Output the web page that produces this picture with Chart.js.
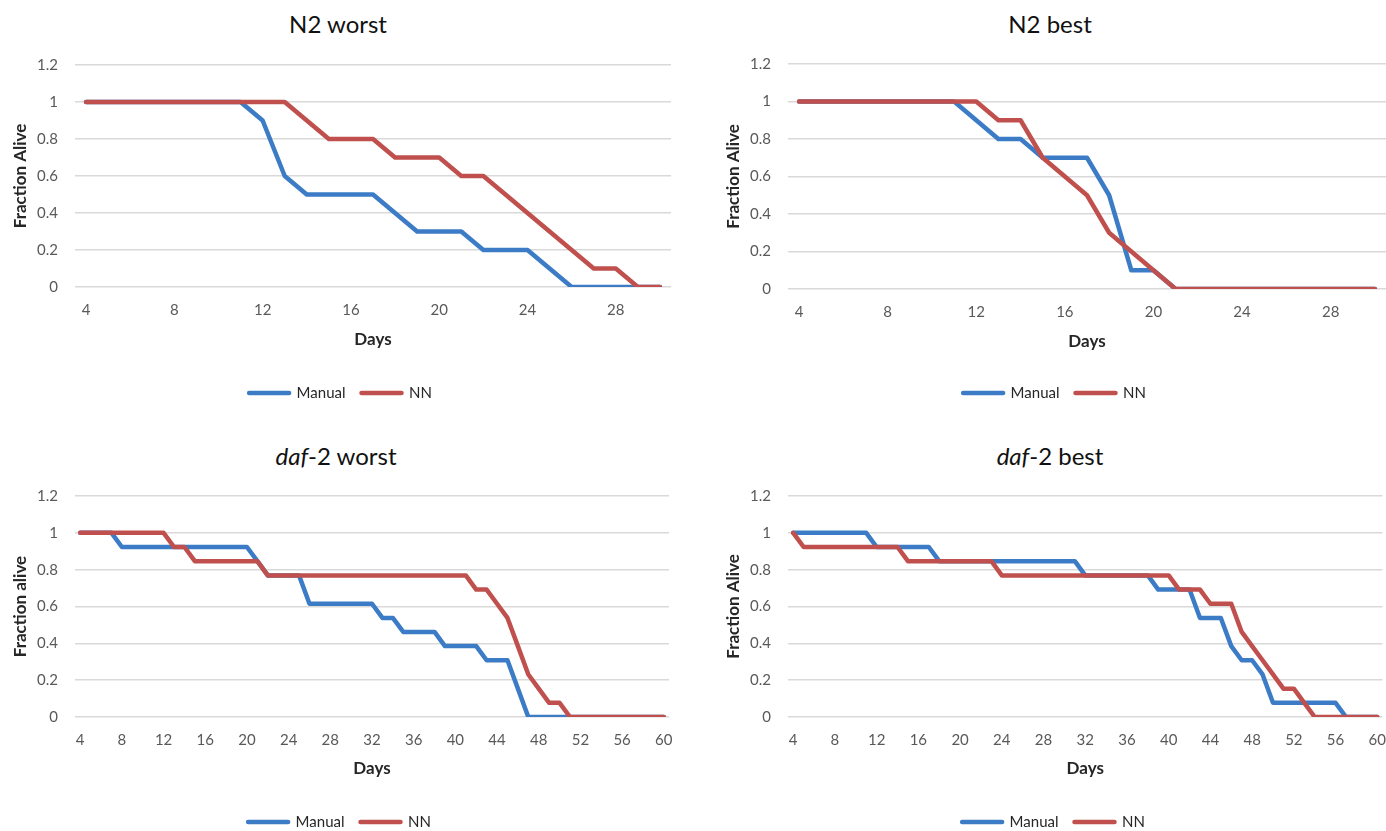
<!DOCTYPE html>
<html>
<head>
<meta charset="utf-8">
<script src="https://cdn.jsdelivr.net/npm/chart.js@4"></script>
<style>
  body { margin: 0; background: #fff; width: 1386px; height: 831px; overflow: hidden; position: relative; font-family: Lato, sans-serif; }
  .panel { position: absolute; }
  .title { position: absolute; width: 300px; text-align: center; font-size: 24px; line-height: 30px; color: #111; }
</style>
</head>
<body>
<div class="title" style="left:188px; top:9px;">N2 worst</div>
<div class="title" style="left:900px; top:9px;">N2 best</div>
<div class="title" style="left:186px; top:441px;"><i>daf</i>-2 worst</div>
<div class="title" style="left:900px; top:441px;"><i>daf</i>-2 best</div>

<div class="panel" style="left:0; top:0; width:693px; height:415px;"><canvas id="n2Worst"></canvas></div>
<div class="panel" style="left:693px; top:0; width:693px; height:415px;"><canvas id="n2Best"></canvas></div>
<div class="panel" style="left:0; top:415px; width:693px; height:430px;"><canvas id="dafWorst"></canvas></div>
<div class="panel" style="left:693px; top:415px; width:693px; height:430px;"><canvas id="dafBest"></canvas></div>

<script>
const n2Days = [4, 5, 6, 7, 8, 9, 10, 11, 12, 13, 14, 15, 16, 17, 18, 19, 20, 21, 22, 23, 24, 25, 26, 27, 28, 29, 30];

const n2WorstManual = [1, 1, 1, 1, 1, 1, 1, 1, 0.9, 0.6, 0.5, 0.5, 0.5, 0.5, 0.4, 0.3, 0.3, 0.3, 0.2, 0.2, 0.2, 0.1, 0, 0, 0, 0, 0];
const n2WorstNN = [1, 1, 1, 1, 1, 1, 1, 1, 1, 1, 0.9, 0.8, 0.8, 0.8, 0.7, 0.7, 0.7, 0.6, 0.6, 0.5, 0.4, 0.3, 0.2, 0.1, 0.1, 0, 0];

const n2BestManual = [1, 1, 1, 1, 1, 1, 1, 1, 0.9, 0.8, 0.8, 0.7, 0.7, 0.7, 0.5, 0.1, 0.1, 0, 0, 0, 0, 0, 0, 0, 0, 0, 0];
const n2BestNN = [1, 1, 1, 1, 1, 1, 1, 1, 1, 0.9, 0.9, 0.7, 0.6, 0.5, 0.3, 0.2, 0.1, 0, 0, 0, 0, 0, 0, 0, 0, 0, 0];

const dafDays = [4, 5, 6, 7, 8, 9, 10, 11, 12, 13, 14, 15, 16, 17, 18, 19, 20, 21, 22, 23, 24, 25, 26, 27, 28, 29, 30, 31, 32,
  33, 34, 35, 36, 37, 38, 39, 40, 41, 42, 43, 44, 45, 46, 47, 48, 49, 50, 51, 52, 53, 54, 55, 56, 57, 58, 59, 60];

const dafWorstManual = [1, 1, 1, 1,
  0.923, 0.923, 0.923, 0.923, 0.923, 0.923, 0.923, 0.923, 0.923, 0.923, 0.923, 0.923, 0.923,
  0.846, 0.769, 0.769, 0.769, 0.769,
  0.615, 0.615, 0.615, 0.615, 0.615, 0.615, 0.615,
  0.538, 0.538, 0.462, 0.462, 0.462, 0.462,
  0.385, 0.385, 0.385, 0.385, 0.308, 0.308, 0.308, 0.154,
  0, 0, 0, 0, 0, 0, 0, 0, 0, 0, 0, 0, 0, 0];
const dafWorstNN = [1, 1, 1, 1, 1, 1, 1, 1, 1,
  0.923, 0.923, 0.846, 0.846, 0.846, 0.846, 0.846, 0.846, 0.846,
  0.769, 0.769, 0.769, 0.769, 0.769, 0.769, 0.769, 0.769, 0.769, 0.769,
  0.769, 0.769, 0.769, 0.769, 0.769, 0.769, 0.769, 0.769, 0.769, 0.769,
  0.692, 0.692, 0.615, 0.538, 0.385, 0.231, 0.154, 0.077, 0.077,
  0, 0, 0, 0, 0, 0, 0, 0, 0, 0];

const dafBestManual = [1, 1, 1, 1, 1, 1, 1, 1,
  0.923, 0.923, 0.923, 0.923, 0.923, 0.923,
  0.846, 0.846, 0.846, 0.846, 0.846, 0.846, 0.846, 0.846, 0.846, 0.846, 0.846, 0.846, 0.846, 0.846,
  0.769, 0.769, 0.769, 0.769, 0.769, 0.769, 0.769,
  0.692, 0.692, 0.692, 0.692, 0.538, 0.538, 0.538, 0.385, 0.308, 0.308, 0.231,
  0.077, 0.077, 0.077, 0.077, 0.077, 0.077, 0.077,
  0, 0, 0, 0];
const dafBestNN = [1,
  0.923, 0.923, 0.923, 0.923, 0.923, 0.923, 0.923, 0.923, 0.923, 0.923,
  0.846, 0.846, 0.846, 0.846, 0.846, 0.846, 0.846, 0.846, 0.846,
  0.769, 0.769, 0.769, 0.769, 0.769, 0.769, 0.769, 0.769, 0.769, 0.769, 0.769, 0.769, 0.769, 0.769, 0.769, 0.769, 0.769,
  0.692, 0.692, 0.692, 0.615, 0.615, 0.615, 0.462, 0.385, 0.308, 0.231, 0.154, 0.154, 0.077,
  0, 0, 0, 0, 0, 0, 0];

const seriesNames = ['Manual', 'NN'];
const seriesColors = ['#3c7cc6', '#c0504d'];
const yTicks = { min: 0, max: 1.2, step: 0.2 };

Chart.defaults.font.family = 'Lato, sans-serif';

// box = where the plot area, "Days" and the legend should land inside each canvas
function makeChart(id, days, manual, nn, yTitle, box) {
    const ctx = document.getElementById(id).getContext('2d');
    const legendPad = 16;
    const legendTop = box.legendY - legendPad - 7.5;
    const xTitleLine = 17 * 1.2;

    return new Chart(ctx, {
        type: 'line',
        data: {
            labels: days,
            datasets: [
                // NN is drawn over Manual, like the original
                { label: seriesNames[0], data: manual, borderColor: seriesColors[0], backgroundColor: seriesColors[0], order: 1 },
                { label: seriesNames[1], data: nn, borderColor: seriesColors[1], backgroundColor: seriesColors[1], order: 0 },
            ],
        },
        options: {
            responsive: true,
            maintainAspectRatio: false,
            animation: false,
            elements: {
                point: { radius: 0, hoverRadius: 0 },
                line: { borderWidth: 4.5, tension: 0, borderJoinStyle: 'round', borderCapStyle: 'round' },
            },
            layout: {
                padding: { left: box.padLeft, right: box.padRight, top: box.top, bottom: box.height - legendTop - (15 + legendPad + 10) },
            },
            scales: {
                x: {
                    type: 'category',
                    offset: true,
                    // tickLength gives the gap under the plot without widening the side padding
                    grid: { display: false, drawTicks: true, tickLength: 14 },
                    border: { display: false },
                    ticks: {
                        autoSkip: false,
                        maxRotation: 0,
                        padding: 0,
                        color: '#595959',
                        font: { size: 15 },
                        callback: function (val, index) {
                            return index % 4 === 0 ? this.getLabelForValue(val) : null;
                        },
                    },
                    title: {
                        display: true,
                        text: 'Days',
                        color: '#262626',
                        font: { size: 17, weight: 'bold' },
                        padding: { top: 0, bottom: legendTop - box.daysY - xTitleLine / 2 },
                    },
                    afterFit: (scale) => { scale.height = legendTop - box.bottom; },
                },
                y: {
                    min: yTicks.min,
                    max: yTicks.max,
                    grid: { color: '#d9d9d9', lineWidth: 1.5, drawTicks: false },
                    border: { display: false },
                    ticks: {
                        stepSize: yTicks.step,
                        padding: 17,
                        color: '#595959',
                        font: { size: 15 },
                        callback: (value) => +value.toFixed(1),
                    },
                    title: {
                        display: true,
                        text: yTitle,
                        color: '#262626',
                        font: { size: 17, weight: 'bold' },
                        padding: { top: 0, bottom: 0 },
                    },
                    afterFit: (scale) => { scale.width = box.left - box.padLeft; },
                },
            },
            plugins: {
                legend: {
                    position: 'bottom',
                    labels: {
                        usePointStyle: true,
                        pointStyle: 'line',
                        pointStyleWidth: 40,
                        padding: legendPad,
                        color: '#262626',
                        font: { size: 15 },
                        sort: (a, b) => a.datasetIndex - b.datasetIndex,
                        generateLabels: (chart) => {
                            const items = Chart.defaults.plugins.legend.labels.generateLabels(chart);
                            items.forEach(item => {
                                item.lineWidth = 4.5;
                                item.lineCap = 'round';
                                item.strokeStyle = seriesColors[item.datasetIndex];
                            });
                            return items;
                        },
                    },
                },
                tooltip: { enabled: false },
            },
        },
    });
}

makeChart('n2Worst', n2Days, n2WorstManual, n2WorstNN, 'Fraction Alive',
    { height: 415, padLeft: 10, padRight: 22, left: 75, top: 65, bottom: 287, daysY: 340, legendY: 393 });
makeChart('n2Best', n2Days, n2BestManual, n2BestNN, 'Fraction Alive',
    { height: 415, padLeft: 30, padRight: 0, left: 95, top: 64, bottom: 289, daysY: 342, legendY: 393 });
makeChart('dafWorst', dafDays, dafWorstManual, dafWorstNN, 'Fraction alive',
    { height: 430, padLeft: 10, padRight: 24, left: 75, top: 81, bottom: 302, daysY: 354, legendY: 407 });
makeChart('dafBest', dafDays, dafBestManual, dafBestNN, 'Fraction Alive',
    { height: 430, padLeft: 30, padRight: 2, left: 95, top: 81, bottom: 302, daysY: 354, legendY: 407 });
</script>
</body>
</html>
